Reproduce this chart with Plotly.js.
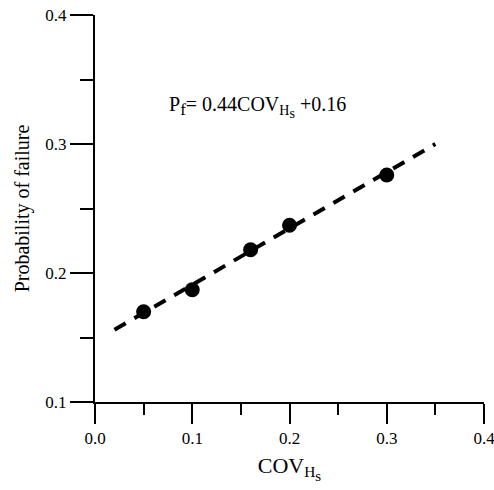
<!DOCTYPE html>
<html><head><meta charset="utf-8">
<script src="https://cdn.plot.ly/plotly-3.0.1.min.js"></script>
<style>html,body{margin:0;padding:0;background:#fff}</style>
</head><body>
<div id="chart" style="width:494px;height:490px"></div>
<script>
const covHs = [0.05, 0.10, 0.16, 0.20, 0.30];
const pf = [0.170, 0.187, 0.218, 0.237, 0.276];
const fitX = [0.02, 0.35];
const fitY = [0.156, 0.300];
const xTickVals = [0.0, 0.1, 0.2, 0.3, 0.4];
const xTickText = ['0.0', '0.1', '0.2', '0.3', '0.4'];
const yTickVals = [0.1, 0.2, 0.3, 0.4];
const yTickText = ['0.1', '0.2', '0.3', '0.4'];

const font = {family: 'Liberation Serif, Times New Roman, serif', color: '#000'};

const traces = [
  {x: fitX, y: fitY, mode: 'lines', type: 'scatter',
   line: {color: '#000', width: 4, dash: '13px,10px'}, hoverinfo: 'skip'},
  {x: covHs, y: pf, mode: 'markers', type: 'scatter',
   marker: {color: '#000', size: 15}, cliponaxis: false}
];

const layout = {
  width: 494, height: 490,
  margin: {l: 95, r: 10, t: 15, b: 88},
  paper_bgcolor: '#fff', plot_bgcolor: '#fff',
  showlegend: false,
  font: Object.assign({size: 17}, font),
  xaxis: {
    range: [0, 0.4], showgrid: false, zeroline: false,
    showline: true, linecolor: '#000', linewidth: 2,
    ticks: 'outside', ticklen: 20, tickwidth: 2, tickcolor: '#000',
    tickvals: xTickVals, ticktext: xTickText,
    ticklabeloverflow: 'allow',
    minor: {dtick: 0.05, tick0: 0, ticks: 'outside', ticklen: 11, tickwidth: 2, tickcolor: '#000'},
    tickfont: Object.assign({size: 17}, font),
    title: {text: 'COV<sub>H<sub><span style="font-size:15px">s</span></sub></sub>', font: Object.assign({size: 22}, font), standoff: 10}
  },
  yaxis: {
    range: [0.1, 0.4], showgrid: false, zeroline: false,
    showline: true, linecolor: '#000', linewidth: 2,
    ticks: 'outside', ticklen: 23, tickwidth: 2, tickcolor: '#000',
    tickvals: yTickVals, ticktext: yTickText,
    ticklabeloverflow: 'allow',
    minor: {dtick: 0.05, tick0: 0.1, ticks: 'outside', ticklen: 13, tickwidth: 2, tickcolor: '#000'},
    tickfont: Object.assign({size: 17}, font),
    title: {text: 'Probability of failure', font: Object.assign({size: 20}, font), standoff: 10}
  },
  annotations: [{
    xref: 'x', yref: 'y', x: 0.074, y: 0.3287, xanchor: 'left', yanchor: 'middle',
    showarrow: false,
    text: 'P<sub><span style="font-size:17px">f</span></sub>= 0.44COV<sub>H<sub><span style="font-size:14px">s</span></sub></sub> +0.16',
    font: Object.assign({size: 20}, font)
  }]
};

Plotly.newPlot('chart', traces, layout, {staticPlot: true, displayModeBar: false});
</script>
</body></html>
